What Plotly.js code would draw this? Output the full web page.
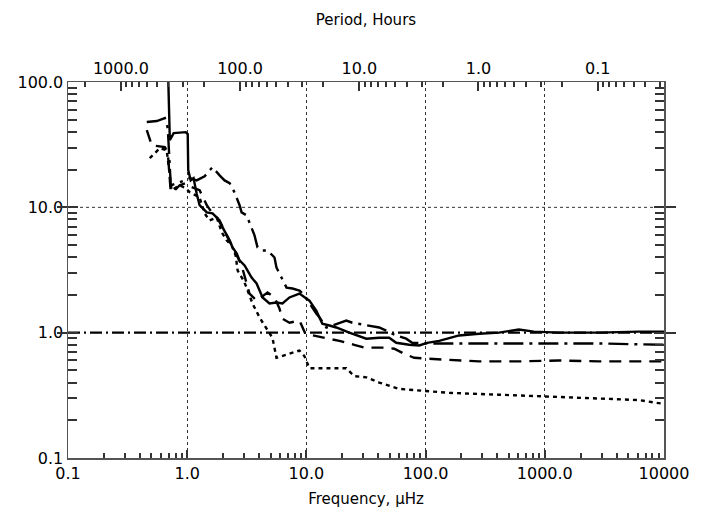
<!DOCTYPE html>
<html><head><meta charset="utf-8">
<script src="https://cdn.plot.ly/plotly-3.0.1.min.js"></script>
<style>html,body{margin:0;padding:0;background:#fff}#chart{width:701px;height:512px}</style>
</head><body><div id="chart"></div>
<script>
// ---- data (frequency in µHz, ratio) ----
const solidFreq = [0.687,0.715,0.77,0.97,1.01,1.02,1.07,1.13,1.20,1.27,1.46,1.63,1.80,1.98,2.14,2.27,2.40,2.60,2.75,3.03,3.21,3.47,3.82,4.29,4.90,5.61,6.30,7.21,8.74,9.62,10.6,12.1,13.6,15.6,17.8,22.9,31.8,40.8,49.5,56.7,72.8,88.3,103,130,191,281,412,606,809,1310,2830,6120,10000];
const solidRatio = [150,34.4,39.1,39.8,38.4,19.8,16.4,17.1,12.9,10.4,9.1,8.95,8.17,6.92,6.19,5.45,4.79,4.29,3.77,3.44,3.13,2.75,2.47,1.91,1.71,1.74,1.71,1.91,2.05,1.91,1.80,1.50,1.18,1.14,1.10,1.0,0.895,0.91,0.91,0.83,0.80,0.79,0.83,0.86,0.95,0.98,1.0,1.06,1.02,1.0,1.0,1.02,1.02];

const dashDotFreq = [0.458,0.556,0.649,0.687,0.728,0.833,0.953,1.05,1.20,1.40,1.63,1.87,2.06,2.27,2.49,2.75,2.86,3.15,3.47,3.67,3.89,4.29,4.72,5.40,5.61,6.30,6.81,7.64,8.74,9.62,10.6,12.1,12.9,14.7,16.5,21.6,24.3,33.6,40.8,46.7,52.5,68.7,77.1,107,191,360,735,2830,10000];
const dashDotRatio = [47.9,48.8,51.5,42.9,15.0,15.6,16.4,17.1,16.4,17.7,20.9,18.0,16.4,15.6,13.2,10.4,9.12,8.63,6.92,5.97,4.79,4.53,4.53,3.98,3.31,2.70,2.29,2.25,2.17,1.98,1.71,1.42,1.32,1.10,1.14,1.25,1.20,1.14,1.10,1.04,0.98,0.895,0.83,0.82,0.82,0.83,0.83,0.82,0.80];

const dashFreq = [0.458,0.505,0.649,0.687,0.728,0.785,0.865,0.97,1.09,1.27,1.46,1.63,1.87,2.14,2.49,2.86,3.33,3.82,4.72,5.40,5.94,6.30,7.21,8.74,9.8,14.2,18.9,25.2,30.6,45.0,54.5,66.1,80.2,103,157,281,606,1310,2830,6120,10000];
const dashRatio = [41.3,31.3,30.2,27.5,13.2,13.7,15.0,15.6,14.5,13.7,10.4,8.95,7.87,5.97,4.53,3.44,2.05,1.80,2.09,1.91,1.56,1.29,1.20,1.25,0.98,0.91,0.86,0.80,0.76,0.76,0.745,0.68,0.63,0.62,0.61,0.59,0.59,0.60,0.59,0.59,0.59];

const dotFreq = [0.485,0.589,0.673,0.74,0.865,0.97,1.05,1.27,1.40,1.54,1.77,1.95,2.14,2.36,2.55,2.65,2.97,3.15,3.53,4.05,4.46,5.19,5.61,7.21,8.74,9.62,10.6,15.6,21.6,25.2,31.8,40.8,49.5,60.0,93.5,157,412,1080,2830,6120,10000];
const dotRatio = [24.7,29.6,28.6,13.7,15.0,14.2,13.2,12.0,8.95,7.87,8.3,6.31,5.45,4.97,4.13,3.13,2.61,2.29,1.71,1.32,1.14,0.91,0.63,0.68,0.72,0.65,0.52,0.52,0.52,0.45,0.44,0.40,0.377,0.356,0.344,0.331,0.32,0.31,0.30,0.29,0.27];

const refFreq = [0.1, 10000];
const refRatio = [1.0, 1.0];

// ---- axes ----
const freqTicks = [0.1, 1, 10, 100, 1000, 10000];
const freqTickText = ["0.1", "1.0", "10.0", "100.0", "1000.0", "10000"];
const ratioTicks = [0.1, 1, 10, 100];
const ratioTickText = ["0.1", "1.0", "10.0", "100.0"];
const periodTicks = [1000, 100, 10, 1, 0.1];
const periodTickText = ["1000.0", "100.0", "10.0", "1.0", "0.1"];

function minorVals(lo, hi) {
  const out = [];
  for (let d = lo; d <= hi; d++) {
    for (let k = 2; k <= 9; k++) out.push(k * Math.pow(10, d));
  }
  return out;
}
const hoursPerInvMicroHz = 1e6 / 3600; // period[h] = 277.78 / f[µHz]
const xRange = [-1, 4];
const yRange = [-1, 2];
const periodRange = [Math.log10(hoursPerInvMicroHz) - xRange[0], Math.log10(hoursPerInvMicroHz) - xRange[1]];

const fam = "DejaVu Sans, Verdana, sans-serif";
const font = {family: fam, size: 16, color: "#000"};
const axisCol = "#555";
const tickCol = "#333";

function line(x, y, dash) {
  return {x: x, y: y, type: "scatter", mode: "lines", xaxis: "x", yaxis: "y",
    line: {color: "#000", width: 2.4, dash: dash}, showlegend: false};
}
function empty(xa, ya) {
  return {x: [], y: [], type: "scatter", mode: "lines", xaxis: xa, yaxis: ya, showlegend: false};
}

const traces = [
  line(refFreq, refRatio, "12px,4px,2px,4px"),
  line(dotFreq, dotRatio, "4px,4px"),
  line(dashFreq, dashRatio, "12px,8px"),
  line(dashDotFreq, dashDotRatio, "20px,6px,3px,6px"),
  line(solidFreq, solidRatio, "solid"),
  empty("x2", "y"), empty("x3", "y"), empty("x4", "y"), empty("x", "y3")
];

const baseAxis = {showgrid: false, zeroline: false, tickwidth: 2, tickcolor: tickCol,
  showline: true, linecolor: axisCol, linewidth: 1.5};

const layout = {
  width: 701, height: 512,
  margin: {l: 68, r: 37, t: 82, b: 54},
  font: font,
  showlegend: false,
  title: {text: "Period, Hours", font: {family: fam, size: 15, color: "#000"},
          xref: "paper", x: 0.5, xanchor: "center", yref: "container", y: 1 - 20/512, yanchor: "middle"},
  xaxis: Object.assign({}, baseAxis, {
    type: "log", range: xRange, tickmode: "array", tickvals: freqTicks, ticktext: freqTickText,
    ticks: "inside", ticklen: 8,
    showgrid: true, gridcolor: "#333", griddash: "dot", gridwidth: 1,
    title: {text: "Frequency, μHz", font: {family: fam, size: 15, color: "#000"}, standoff: 12}
  }),
  xaxis3: Object.assign({}, baseAxis, {
    type: "log", range: xRange, overlaying: "x", side: "bottom", anchor: "y",
    tickmode: "array", tickvals: minorVals(-1, 3), ticks: "inside", ticklen: 5, showticklabels: false
  }),
  xaxis2: Object.assign({}, baseAxis, {
    type: "log", range: periodRange, overlaying: "x", side: "top", anchor: "y",
    tickmode: "array", tickvals: periodTicks, ticktext: periodTickText,
    ticks: "inside", ticklen: 9
  }),
  xaxis4: Object.assign({}, baseAxis, {
    type: "log", range: periodRange, overlaying: "x", side: "top", anchor: "y",
    tickmode: "array", tickvals: minorVals(-2, 3), ticks: "inside", ticklen: 5, showticklabels: false
  }),
  yaxis: Object.assign({}, baseAxis, {
    type: "log", range: yRange, tickmode: "array", tickvals: ratioTicks, ticktext: ratioTickText,
    ticks: "inside", ticklen: 10, mirror: "allticks",
    showgrid: true, gridcolor: "rgba(0,0,0,0)"
  }),
  yaxis3: Object.assign({}, baseAxis, {
    type: "log", range: yRange, overlaying: "y", side: "left", anchor: "x",
    tickmode: "array", tickvals: [2,3,4,5,6,7,8,9,10,20,30,40,50,60,70,80,90].concat(minorVals(-1, -1)),
    ticks: "inside", ticklen: 9, mirror: "allticks", showticklabels: false
  })
};
// dotted horizontal gridline at 10 only (drawn by the 10 tick of the overlay axis)
layout.yaxis3.showgrid = false;

Plotly.newPlot("chart", traces, layout, {displayModeBar: false, staticPlot: true}).then(function () {
  // dotted horizontal gridline at ratio = 10, placed through the axis scale
  const ya = document.getElementById("chart")._fullLayout.yaxis;
  Plotly.relayout("chart", {shapes: [{type: "line", xref: "paper", x0: 0, x1: 1, yref: "y", y0: 10, y1: 10,
    line: {color: "#333", width: 1, dash: "dot"}, layer: "below"}]});
});
</script>
</body></html>
